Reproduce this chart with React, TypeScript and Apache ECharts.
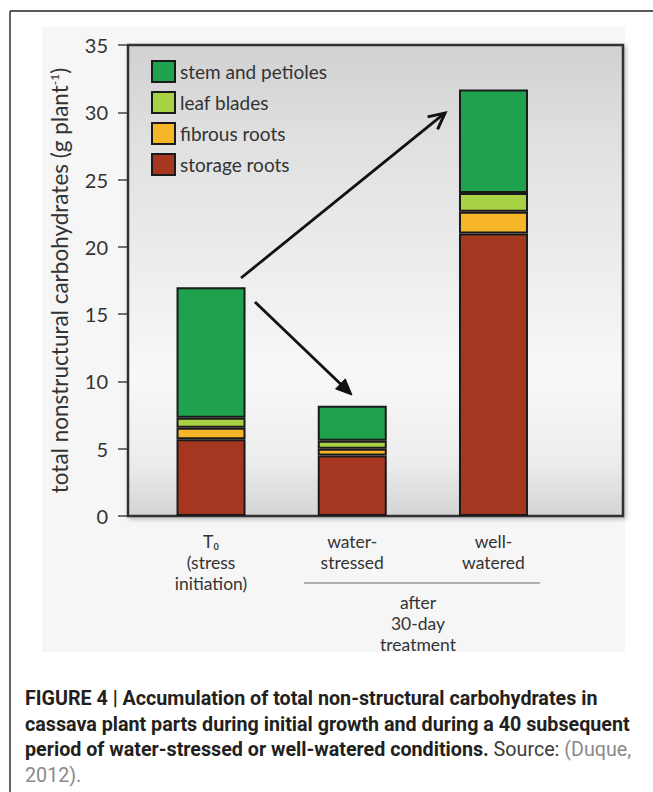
import React, { useEffect, useRef } from "react";
import * as echarts from "echarts";

const categories = ["T0", "water-stressed", "well-watered"];
const categoryLabels = [
  "T\u2080\n(stress\ninitiation)",
  "water-\nstressed",
  "well-\nwatered",
];
const storageRoots = [5.7, 4.5, 21.0];
const fibrousRoots = [0.85, 0.5, 1.6];
const leafBlades = [0.75, 0.6, 1.4];
const stemPetioles = [9.7, 2.6, 7.7];
const seriesNames = ["stem and petioles", "leaf blades", "fibrous roots", "storage roots"];
const seriesColors = ["#1ea24d", "#a9d145", "#f7b52a", "#a5361f"];
const yMin = 0;
const yMax = 35;
const yInterval = 5;
const groupNote = ["after", "30-day", "treatment"];
const captionLines = [
  "FIGURE 4 | Accumulation of total non-structural carbohydrates in",
  "cassava plant parts during initial growth and during a 40 subsequent",
  "period of water-stressed or well-watered conditions.",
];
const captionSource = ["Source: ", "(Duque,", "2012)."];

const FONT = "Lato, 'Open Sans', sans-serif";
const CAP_FONT = "Roboto, sans-serif";
const CAP_SIZE = 19.7;
const CAT_SIZE = 17.5;
const CAT_LH = 21;

function arrow(
  x1: number,
  y1: number,
  x2: number,
  y2: number,
  filled: boolean
): any[] {
  const dx = x2 - x1;
  const dy = y2 - y1;
  const len = Math.sqrt(dx * dx + dy * dy);
  const ux = dx / len;
  const uy = dy / len;
  const L = 16;
  const W = filled ? 7 : 8;
  const bx = x2 - ux * L;
  const by = y2 - uy * L;
  const px = -uy;
  const py = ux;
  const p1 = [bx + px * W, by + py * W];
  const p2 = [bx - px * W, by - py * W];
  const els: any[] = [];
  els.push({
    type: "line",
    shape: {
      x1,
      y1,
      x2: filled ? bx + ux * 2 : x2 - ux * 1.5,
      y2: filled ? by + uy * 2 : y2 - uy * 1.5,
    },
    style: { stroke: "#111", lineWidth: 2.8, lineCap: "butt" },
    z: 20,
  });
  if (filled) {
    els.push({
      type: "polygon",
      shape: { points: [p1, [x2, y2], p2] },
      style: { fill: "#111", stroke: "#111", lineWidth: 1 },
      z: 20,
    });
  } else {
    els.push({
      type: "polyline",
      shape: { points: [p1, [x2, y2], p2] },
      style: { stroke: "#111", lineWidth: 3, fill: "none", lineJoin: "miter" },
      z: 20,
    });
  }
  return els;
}

export default function App() {
  const ref = useRef<HTMLDivElement>(null);

  useEffect(() => {
    if (!ref.current) return;
    const chart = echarts.init(ref.current, undefined, { renderer: "svg" });

    const barSeries = [
      { name: seriesNames[3], data: storageRoots, color: seriesColors[3] },
      { name: seriesNames[2], data: fibrousRoots, color: seriesColors[2] },
      { name: seriesNames[1], data: leafBlades, color: seriesColors[1] },
      { name: seriesNames[0], data: stemPetioles, color: seriesColors[0] },
    ].map((s) => ({
      type: "bar",
      name: s.name,
      data: s.data,
      stack: "total",
      xAxisIndex: 1,
      yAxisIndex: 1,
      barWidth: 69,
      itemStyle: { color: s.color, borderColor: "#1a1a1a", borderWidth: 2 },
      emphasis: { disabled: true },
      z: 5,
    }));

    const captionText =
      captionLines.map((l) => "{b|" + l + "}").join("\n") +
      "{n| " + captionSource[0] + "}{g|" + captionSource[1] + "}\n{g|" + captionSource[2] + "}";

    const option: any = {
      animation: false,
      backgroundColor: "#ffffff",
      textStyle: { fontFamily: FONT },
      legend: {
        data: seriesNames,
        orient: "vertical",
        left: 151,
        top: 60,
        padding: 0,
        itemWidth: 23,
        itemHeight: 21,
        itemGap: 8,
        icon: "rect",
        selectedMode: false,
        textStyle: { fontFamily: FONT, fontSize: 19, color: "#333" },
      },
      grid: [
        {
          left: 128,
          right: 30,
          top: 45,
          bottom: 276,
          show: true,
          borderColor: "#333",
          borderWidth: 2.5,
          backgroundColor: new echarts.graphic.LinearGradient(0, 0, 0, 1, [
            { offset: 0, color: "#d1d1d1" },
            { offset: 0.2, color: "#e0e0e0" },
            { offset: 0.7, color: "#f8f8f8" },
            { offset: 0.88, color: "#ededed" },
            { offset: 1, color: "#d4d4d4" },
          ]),
          shadowColor: "rgba(0,0,0,0.25)",
          shadowBlur: 4,
          shadowOffsetX: 2,
          shadowOffsetY: 2,
          z: 1,
        },
        {
          left: 140.4,
          right: 88.9,
          top: 45,
          bottom: 276,
        },
      ],
      xAxis: [
        { type: "value", gridIndex: 0, min: 0, max: 1, show: false },
        {
          type: "category",
          gridIndex: 1,
          data: categories,
          axisLine: { show: false },
          axisTick: { show: false },
          axisLabel: {
            interval: 0,
            margin: 15,
            color: "#333",
            fontFamily: FONT,
            fontSize: CAT_SIZE,
            lineHeight: CAT_LH,
            formatter: (_v: string, i: number) => categoryLabels[i],
          },
        },
      ],
      yAxis: [
        {
          type: "value",
          gridIndex: 0,
          min: yMin,
          max: yMax,
          interval: yInterval,
          name: "total nonstructural carbohydrates (g plant{sup|-1})",
          nameLocation: "middle",
          nameGap: 57,
          nameTextStyle: {
            fontFamily: FONT,
            fontSize: 22.5,
            color: "#333",
            rich: {
              sup: {
                fontFamily: FONT,
                fontSize: 12,
                color: "#333",
                verticalAlign: "top",
                lineHeight: 12,
              },
            },
          },
          axisLine: { show: false },
          axisTick: { show: true, length: 10, lineStyle: { color: "#444", width: 1.5 } },
          axisLabel: { margin: 20, fontFamily: FONT, fontSize: 20, color: "#333" },
          splitLine: { show: false },
        },
        {
          type: "value",
          gridIndex: 1,
          min: yMin,
          max: yMax,
          interval: yInterval,
          show: false,
          splitLine: { show: false },
        },
      ],
      series: barSeries,
      graphic: [
        {
          type: "rect",
          shape: { x: 42, y: 27, width: 583, height: 625 },
          style: { fill: "#f6f6f6" },
          z: -10,
          silent: true,
        },
        {
          type: "line",
          shape: { x1: 10, y1: 11, x2: 653, y2: 11 },
          style: { stroke: "#222", lineWidth: 1.4 },
        },
        {
          type: "line",
          shape: { x1: 10, y1: 11, x2: 10, y2: 792 },
          style: { stroke: "#222", lineWidth: 1.4 },
        },
        {
          type: "line",
          shape: { x1: 304, y1: 583, x2: 540, y2: 583 },
          style: { stroke: "#9a9a9a", lineWidth: 1.5 },
        },
        {
          type: "text",
          x: 418,
          y: 591.5,
          style: {
            text: groupNote.join("\n"),
            textAlign: "center",
            textVerticalAlign: "top",
            fontFamily: FONT,
            fontSize: CAT_SIZE,
            lineHeight: CAT_LH,
            fill: "#333",
          },
        },
        ...arrow(241, 278, 445, 113, false),
        ...arrow(255, 302, 352, 395, true),
        {
          type: "text",
          x: 25,
          y: 686,
          style: {
            text: captionText,
            textAlign: "left",
            textVerticalAlign: "top",
            fontFamily: CAP_FONT,
            fontSize: CAP_SIZE,
            lineHeight: 25.5,
            rich: {
              b: {
                fontFamily: CAP_FONT,
                fontWeight: "bold",
                fontSize: CAP_SIZE,
                lineHeight: 25.5,
                fill: "#231f20",
              },
              n: {
                fontFamily: CAP_FONT,
                fontSize: CAP_SIZE,
                lineHeight: 25.5,
                fill: "#3c3c3c",
              },
              g: {
                fontFamily: CAP_FONT,
                fontSize: CAP_SIZE,
                lineHeight: 25.5,
                fill: "#8a8a8a",
              },
            },
          },
        },
      ],
    };

    chart.setOption(option);
    return () => chart.dispose();
  }, []);

  return (
    <div
      ref={ref}
      style={{ position: "absolute", left: 0, top: 0, width: 653, height: 792 }}
    />
  );
}
